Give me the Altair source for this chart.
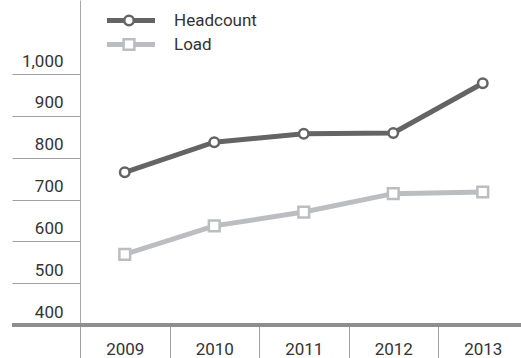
import altair as alt
import pandas as pd

years = ["2009", "2010", "2011", "2012", "2013"]
headcount = [765, 837, 857, 859, 978]
load = [569, 637, 670, 714, 718]
series_names = ["Headcount", "Load"]
colors = ["#646464", "#bcbdc0"]
shapes = ["circle", "square"]
marker_sizes = [90, 115]
y_ticks = [400, 500, 600, 700, 800, 900, 1000]

rows = []
for s, vals in zip(series_names, [headcount, load]):
    for yr, v in zip(years, vals):
        rows.append({"year": yr, "value": v, "series": s, "marker": s})
df = pd.DataFrame(rows)
legend_df = pd.DataFrame({"series": series_names, "marker": series_names})

FONT = "Roboto"
FS = 17

x = alt.X(
    "year:O",
    bandPosition=0.5,
    scale=alt.Scale(type="band", paddingInner=0, paddingOuter=0, range=[0, 447.5]),
    axis=alt.Axis(
        title=None, labelAngle=0, domain=False, tickBand="extent", tickSize=33,
        tickColor="#a0a0a0", tickWidth=1, labelFontSize=FS, labelColor="#333333",
        labelFont=FONT, labelPadding=-17, grid=False,
    ),
)
y = alt.Y(
    "value:Q",
    scale=alt.Scale(domain=[400, 1177], nice=False, zero=False),
    axis=alt.Axis(
        title=None, values=y_ticks, format=",d", tickSize=68, tickColor="#a0a0a0",
        tickWidth=1, domainColor="#a8a8a8", domainWidth=1, labelPadding=-51,
        labelOffset=-8, labelBaseline="alphabetic", grid=False, labelFontSize=FS,
        labelColor="#333333", labelFont=FONT,
    ),
)

color_enc = alt.Color("series:N", scale=alt.Scale(domain=series_names, range=colors), legend=None)
stroke_enc = alt.Stroke("marker:N", scale=alt.Scale(domain=series_names, range=colors), legend=None)
shape_enc = alt.Shape("marker:N", scale=alt.Scale(domain=series_names, range=shapes), legend=None)
size_enc = alt.Size("marker:N", scale=alt.Scale(domain=series_names, range=marker_sizes), legend=None)

base = alt.Chart(df)

lines = base.mark_line(strokeWidth=5).encode(x=x, y=y, color=color_enc)

points = base.mark_point(filled=True, fill="white", strokeWidth=2.5, opacity=1).encode(
    x=x, y=y, stroke=stroke_enc, shape=shape_enc, size=size_enc,
)

baseline = alt.Chart(pd.DataFrame({"v": [400]})).mark_rule(
    color="#8e8e8e", strokeWidth=4
).encode(y=alt.Y("v:Q"), x=alt.value(-68), x2=alt.value(447.5))

data_layer = alt.layer(lines, baseline, points)

ly = alt.Y("series:N", scale=alt.Scale(type="point", domain=series_names, range=[20.5, 44.5], padding=0), axis=None)
leg = alt.Chart(legend_df)
leg_line = leg.mark_rule(strokeWidth=5).encode(
    x=alt.value(27), x2=alt.value(75), y=ly, color=color_enc
)
leg_pt = leg.mark_point(filled=True, fill="white", strokeWidth=2.5, opacity=1).encode(
    x=alt.value(49), y=ly, stroke=stroke_enc, shape=shape_enc, size=size_enc
)
leg_text = leg.mark_text(align="left", baseline="middle", fontSize=FS, font=FONT, color="#333333").encode(
    x=alt.value(94), y=ly, text="series:N"
)
legend_layer = alt.layer(leg_line, leg_pt, leg_text)

chart = alt.layer(data_layer, legend_layer).resolve_scale(y="independent").properties(
    width=441, height=325,
    autosize=alt.AutoSizeParams(type="none"),
    padding={"left": 80, "top": 0, "right": 0, "bottom": 33},
    background="white",
).configure_view(stroke=None)

chart.save("out.html", embed_options={"renderer": "svg", "actions": False})
